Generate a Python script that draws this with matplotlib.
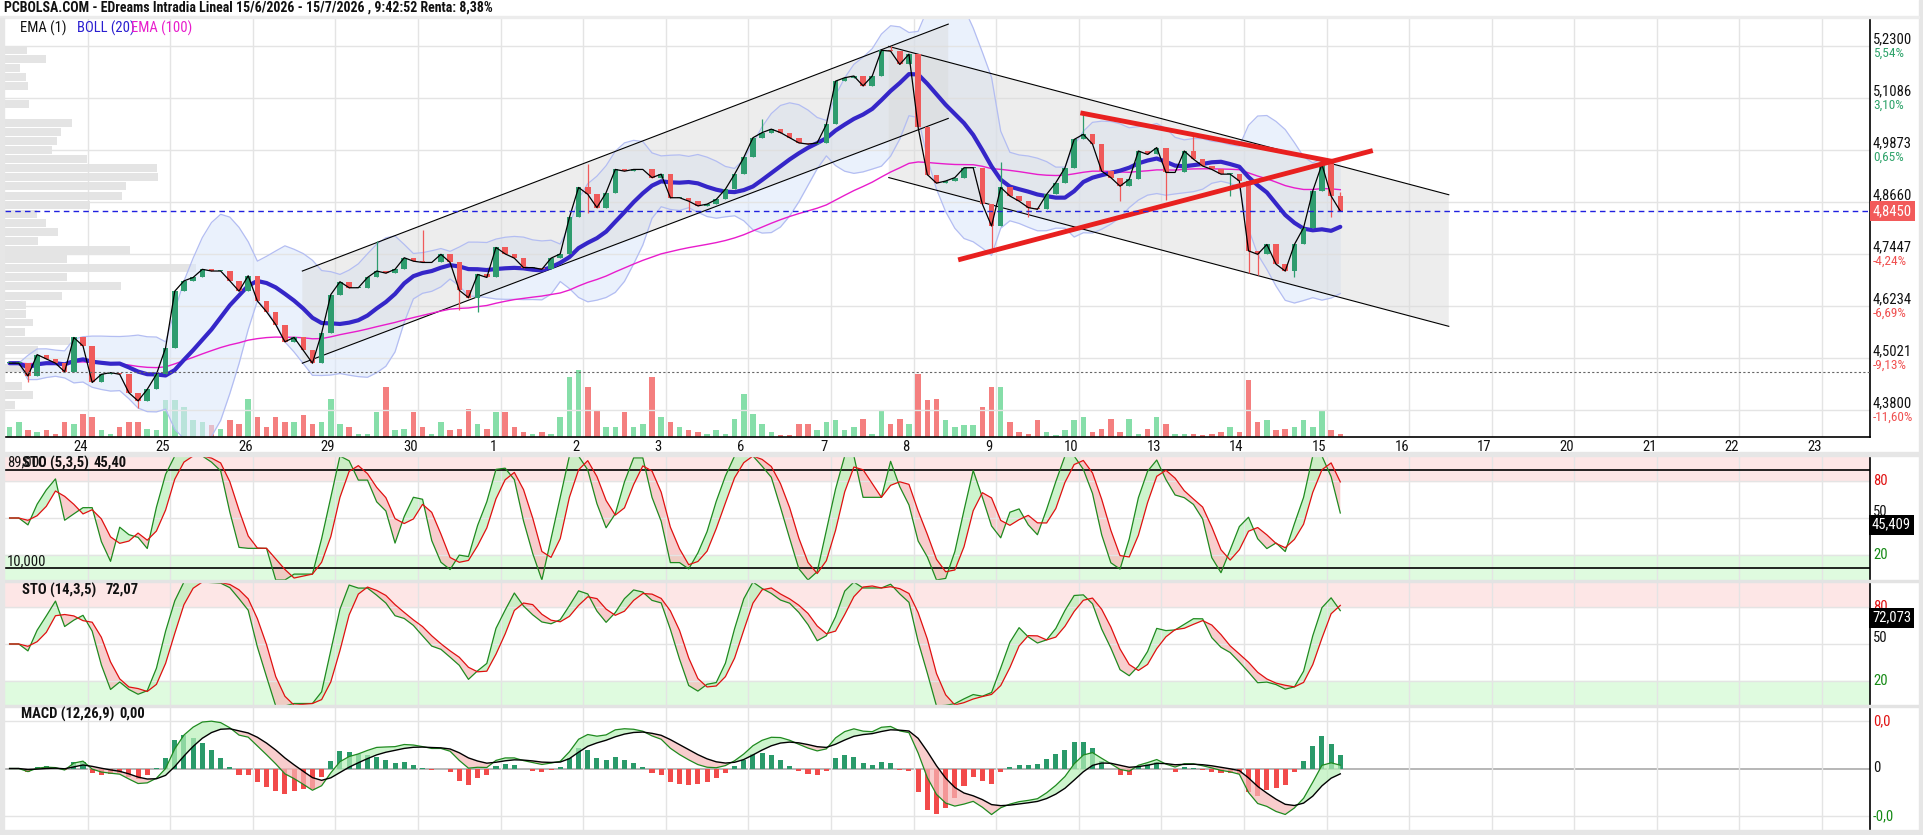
import numpy as np
import pandas as pd
import matplotlib
matplotlib.use('Agg')
import matplotlib.pyplot as plt
from matplotlib import font_manager

W, H = 1924, 835

# ---- data (x axis: one unit per trading day, day 23 starts at 0) ----
day_labels = ["24", "25", "26", "29", "30", "1", "2", "3", "6", "7", "8",
              "9", "10", "13", "14", "15", "16", "17", "20", "21", "22", "23"]

# hourly closes, one list per trading day (23/6 ... 15/7)
close_by_day = [
    [4.49, 4.49, 4.46, 4.51, 4.50, 4.49, 4.47, 4.55, 4.53],
    [4.445, 4.464, 4.468, 4.464, 4.421, 4.402, 4.429, 4.464, 4.526],
    [4.658, 4.682, 4.690, 4.709, 4.705, 4.705, 4.682, 4.658, 4.694],
    [4.635, 4.61, 4.58, 4.54, 4.55, 4.52, 4.49, 4.56, 4.65],
    [4.68, 4.666, 4.666, 4.69, 4.705, 4.70, 4.709, 4.736, 4.728],
    [4.725, 4.725, 4.744, 4.725, 4.66, 4.643, 4.697, 4.69, 4.76],
    [4.745, 4.735, 4.713, 4.713, 4.709, 4.735, 4.745, 4.83, 4.90],
    [4.884, 4.853, 4.888, 4.942, 4.938, 4.942, 4.942, 4.923, 4.931],
    [4.876, 4.876, 4.868, 4.857, 4.861, 4.872, 4.896, 4.931, 4.970],
    [5.016, 5.028, 5.036, 5.028, 5.016, 5.004, 5.001, 5.004, 5.047],
    [5.148, 5.156, 5.160, 5.137, 5.160, 5.220, 5.218, 5.187, 5.211],
    [5.04, 4.93, 4.91, 4.915, 4.923, 4.946, 4.946, 4.861, 4.810],
    [4.90, 4.88, 4.868, 4.853, 4.849, 4.884, 4.911, 4.946, 5.012],
    [5.024, 5.001, 4.938, 4.923, 4.903, 4.919, 4.985, 4.977, 4.993],
    [4.935, 4.935, 4.985, 4.966, 4.950, 4.942, 4.931, 4.931, 4.915],
    [4.752, 4.744, 4.767, 4.721, 4.705, 4.767, 4.806, 4.892, 4.954],
    [4.88, 4.845],
]

vol_by_day = [
    [30, 45, 20, 15, 20, 10, 45, 40, 70],
    [60, 20, 10, 30, 45, 45, 25, 20, 110],
    [110, 90, 50, 45, 35, 25, 50, 40, 115],
    [60, 30, 60, 45, 45, 65, 40, 45, 115],
    [40, 30, 10, 10, 75, 150, 20, 25, 75],
    [30, 10, 45, 20, 25, 85, 40, 25, 75],
    [75, 30, 15, 10, 15, 10, 60, 180, 200],
    [150, 80, 30, 30, 75, 30, 40, 180, 60],
    [45, 30, 20, 15, 10, 20, 10, 55, 130],
    [70, 40, 15, 5, 5, 40, 40, 20, 45],
    [50, 20, 30, 55, 10, 80, 40, 55, 40],
    [190, 110, 115, 50, 30, 35, 35, 90, 150],
    [150, 45, 15, 10, 50, 15, 5, 20, 50],
    [60, 15, 25, 55, 15, 55, 10, 25, 60],
    [40, 10, 10, 10, 5, 10, 15, 30, 15],
    [170, 45, 50, 20, 25, 30, 50, 30, 80],
    [20, 10],
]

# notable wicks: (day, bar) -> price
wick_hi = {(4, 4): 4.775, (5, 0): 4.80, (7, 0): 4.955, (9, 1): 5.06, (10, 6): 5.23,
           (12, 0): 4.96, (13, 0): 5.078, (14, 3): 5.02, (16, 1): 4.89}
wick_lo = {(0, 2): 4.445, (1, 5): 4.385, (5, 4): 4.615, (5, 6): 4.61, (7, 0): 4.84,
           (8, 2): 4.845, (11, 8): 4.75, (12, 3): 4.83, (13, 4): 4.868, (14, 0): 4.87,
           (14, 7): 4.88, (15, 0): 4.70, (15, 1): 4.695, (15, 5): 4.69, (16, 0): 4.83}

# volume profile on the left (price level, bar length in pixels)
vp_price = [5.221, 5.200, 5.179, 5.158, 5.137, 5.095, 5.051, 5.030, 5.008, 4.987, 4.966, 4.945,
            4.924, 4.903, 4.880, 4.858, 4.837, 4.816, 4.796, 4.775, 4.754, 4.733, 4.713, 4.690,
            4.669, 4.647, 4.626, 4.604, 4.585, 4.563, 4.542, 4.521, 4.478, 4.437, 4.415, 4.393]
vp_width = [22, 41, 15, 21, 23, 24, 67, 56, 52, 47, 82, 152, 153, 121, 117, 85, 32, 41, 53, 33,
            125, 62, 191, 62, 116, 57, 21, 21, 28, 20, 65, 33, 25, 17, 28, 10]

price_ticks = [5.2300, 5.1086, 4.9873, 4.8660, 4.7447, 4.6234, 4.5021, 4.3800]
price_tick_labels = ["5,2300", "5,1086", "4,9873", "4,8660", "4,7447", "4,6234", "4,5021", "4,3800"]
pct_labels = ["5,54%", "3,10%", "0,65%", "", "-4,24%", "-6,69%", "-9,13%", "-11,60%"]

last_price = 4.8450
ref_line = 4.469
sto1_last, sto2_last = 45.409, 72.073

# drawn objects: (x0, p0, x1, p1)
up_low = (3.60, 4.490, 11.42, 5.061)
up_high = (3.60, 4.705, 11.42, 5.281)
dn_high = (10.70, 5.229, 17.48, 4.883)
dn_low = (10.70, 4.923, 17.48, 4.576)
red_down = (13.02, 5.074, 16.09, 4.960)
red_up = (11.54, 4.731, 16.56, 4.986)

title = "PCBOLSA.COM - EDreams Intradia Lineal 15/6/2026 - 15/7/2026 , 9:42:52 Renta: 8,38%"

# ---- fonts ----
names = {f.name for f in font_manager.fontManager.ttflist}
font = next((n for n in ["Roboto Condensed", "Liberation Sans Narrow", "Roboto"] if n in names), "DejaVu Sans")
plt.rcParams['font.family'] = [font, 'DejaVu Sans']
FS = 10.5

# ---- series ----
closes = np.concatenate([np.array(d, float) for d in close_by_day])
vols = np.concatenate([np.array(v, float) for v in vol_by_day])
xs = np.concatenate([d + (np.arange(len(day)) + 0.5) / 9 for d, day in enumerate(close_by_day)])
opens = np.r_[closes[0], closes[:-1]]
highs = np.maximum(opens, closes)
lows = np.minimum(opens, closes)
pos = {}
i = 0
for d, day in enumerate(close_by_day):
    for k in range(len(day)):
        pos[(d, k)] = i
        i += 1
for key, v in wick_hi.items():
    highs[pos[key]] = max(highs[pos[key]], v)
for key, v in wick_lo.items():
    lows[pos[key]] = min(lows[pos[key]], v)

s = pd.Series(closes)
mid = s.rolling(10, min_periods=1).mean()
sd = s.rolling(10, min_periods=2).std(ddof=0).fillna(0)
bb_up, bb_lo = mid + 2 * sd, mid - 2 * sd
ema100 = s.ewm(span=50, adjust=False).mean()


def stoch(k, slow, d):
    hh = pd.Series(highs).rolling(k, min_periods=1).max()
    ll = pd.Series(lows).rolling(k, min_periods=1).min()
    raw = 100 * (s - ll) / (hh - ll).replace(0, np.nan)
    kk = raw.fillna(50).rolling(slow, min_periods=1).mean()
    return kk, kk.rolling(d, min_periods=1).mean()


# periods scaled to hourly bars (the source uses half-hour bars)
k1, d1 = stoch(3, 3, 3)
k2, d2 = stoch(8, 3, 3)
macd = s.ewm(span=6, adjust=False).mean() - s.ewm(span=13, adjust=False).mean()
signal = macd.ewm(span=5, adjust=False).mean()
hist = macd - signal

# ---- figure ----
fig = plt.figure(figsize=(W / 100, H / 100), dpi=100)
fig.patch.set_facecolor('white')


def px_axes(x0, y0, x1, y1):
    return fig.add_axes([x0 / W, 1 - y1 / H, (x1 - x0) / W, (y1 - y0) / H])


def strip(x0, y0, x1, y1, color):
    fig.patches.append(plt.Rectangle((x0 / W, 1 - y1 / H), (x1 - x0) / W, (y1 - y0) / H,
                                     transform=fig.transFigure, color=color, zorder=0))


strip(0, 452, W, 456, '#e6e6e6')
strip(0, 580, W, 582, '#e3e3e3')
strip(0, 705, W, 707, '#e3e3e3')
strip(0, 830, W, H, '#e6e6e6')
strip(1919, 0, W, H, '#e6e6e6')
strip(0, 16, 1919, 18, '#ececec')
strip(0, 18, 4, 830, '#e6e6e6')

XMAX = 22.58
grid_c = '#e4e4e4'

ax_v = px_axes(5, 18, 1870, 437)
ax = px_axes(5, 18, 1870, 437)
ax_s1 = px_axes(5, 456, 1870, 580)
ax_s2 = px_axes(5, 582, 1870, 706)
ax_m = px_axes(5, 707, 1870, 830)

for a in (ax_v, ax, ax_s1, ax_s2, ax_m):
    a.set_xlim(0, XMAX)
    a.set_xticks(np.arange(1, 23))
    a.tick_params(left=False, bottom=False, right=False, top=False,
                  labelleft=False, labelbottom=False)
    for sp in a.spines.values():
        sp.set_visible(False)
    a.spines['right'].set_visible(True)
    a.spines['right'].set_color('black')
    a.spines['right'].set_linewidth(1.2)
ax.patch.set_visible(False)
ax_v.spines['right'].set_visible(False)

# volume (behind price)
ax_v.set_ylim(0, 419 * 3)
ax_v.set_yticks([])
ax_v.grid(axis='x', color=grid_c, lw=1)
up = closes >= opens
ax_v.bar(xs, vols, width=0.6 / 9, color=np.where(up, '#86dea9', '#f47f7f'), zorder=2)

# main price panel
ax.set_ylim(4.3178, 5.2953)
ax.set_yticks(price_ticks)
ax.grid(axis='y', color=grid_c, lw=1)
ax.spines['bottom'].set_visible(True)
ax.spines['bottom'].set_color('black')
ax.spines['bottom'].set_linewidth(1.2)

px_per_day = XMAX / 1865
ax.barh(vp_price, np.array(vp_width) * px_per_day, height=0.0185, left=0,
        color='#e2e2e2', alpha=0.9, zorder=1)

ax.fill_between(xs, bb_lo, bb_up, color='#dce8fb', alpha=0.6, lw=0, zorder=1.5)
ax.plot(xs, bb_up, color='#b3bdf2', lw=0.9, zorder=2)
ax.plot(xs, bb_lo, color='#b3bdf2', lw=0.9, zorder=2)

for lo_l, hi_l in ((up_low, up_high), (dn_low, dn_high)):
    ax.fill([lo_l[0], lo_l[2], hi_l[2], hi_l[0]], [lo_l[1], lo_l[3], hi_l[3], hi_l[1]],
            color='#d9d9d9', alpha=0.45, lw=0, zorder=1.6)
    for ln in (lo_l, hi_l):
        ax.plot([ln[0], ln[2]], [ln[1], ln[3]], color='black', lw=0.8, zorder=3)

ax.plot(xs, ema100, color='#e81ccc', lw=1.0, zorder=3)
ax.plot(xs, mid, color='#3526c8', lw=3.0, zorder=3, solid_capstyle='round')

cw = 0.6 / 9
col = np.where(up, '#2e9c6e', '#f05a5a')
ax.vlines(xs, lows, highs, colors=col, lw=0.9, zorder=4)
ax.bar(xs, np.maximum(np.abs(closes - opens), 0.002), bottom=np.minimum(opens, closes),
       width=cw, color=col, zorder=4)
ax.plot(xs, closes, color='black', lw=0.9, zorder=5)

for ln in (red_down, red_up):
    ax.plot([ln[0], ln[2]], [ln[1], ln[3]], color='#e8201f', lw=3.5, zorder=6,
            solid_capstyle='butt')

ax.axhline(last_price, color='#2020e0', lw=1, ls=(0, (4, 3)), zorder=6)
ax.axhline(ref_line, color='#666666', lw=0.8, ls=(0, (2, 2)), zorder=6)

yax = ax.get_yaxis_transform()
for t, lbl, pct in zip(price_ticks, price_tick_labels, pct_labels):
    ax.annotate(lbl, xy=(1, t), xycoords=yax, xytext=(3, 7), textcoords='offset pixels',
                va='center', ha='left', fontsize=FS, color='#111111', annotation_clip=False)
    if pct:
        ax.annotate(pct, xy=(1, t), xycoords=yax, xytext=(3, -7), textcoords='offset pixels',
                    va='center', ha='left', fontsize=9.5,
                    color='#2ea36a' if not pct.startswith('-') else '#f05050',
                    annotation_clip=False)
ax.annotate("4,8450", xy=(1, last_price), xycoords=yax, xytext=(3, 0), textcoords='offset pixels',
            va='center', ha='left', fontsize=FS, color='white', annotation_clip=False,
            bbox=dict(boxstyle='square,pad=0.2', fc='#f25a5a', ec='none'))

xax = ax.get_xaxis_transform()
for xpos, lbl in zip(range(1, 23), day_labels):
    ax.text(xpos - 0.09, -0.025, lbl, transform=xax, ha='center', va='center',
            fontsize=FS, color='#111111')


# stochastic panels
def sto_panel(a, k, d, lines):
    a.set_ylim(0, 100)
    a.set_yticks([20, 50, 80])
    a.grid(color=grid_c, lw=1)
    a.axhspan(80, 100, color='#fde6e6', zorder=0)
    a.axhspan(0, 20, color='#dffbdf', zorder=0)
    for v in lines:
        a.axhline(v, color='black', lw=1.2, zorder=2)
    a.fill_between(xs, k, d, where=k >= d, interpolate=True, color='#b8f0b8', alpha=0.7, lw=0)
    a.fill_between(xs, k, d, where=k < d, interpolate=True, color='#f6b8b8', alpha=0.7, lw=0)
    a.plot(xs, k, color='#1f8a1f', lw=0.9, zorder=3)
    a.plot(xs, d, color='#e01010', lw=0.9, zorder=3)
    t = a.get_yaxis_transform()
    for v, c, dy in ((80, '#e01010', 0), (50, '#111111', 6), (20, '#158a15', 0)):
        a.annotate(str(v), xy=(1, v), xycoords=t, xytext=(3, dy), textcoords='offset pixels',
                   va='center', ha='left', fontsize=FS, color=c, annotation_clip=False)


sto_panel(ax_s1, k1, d1, [89, 10])
sto_panel(ax_s2, k2, d2, [])
for a, v, txt in ((ax_s1, sto1_last, "45,409"), (ax_s2, sto2_last, "72,073")):
    a.annotate(txt, xy=(1, v), xycoords=a.get_yaxis_transform(), xytext=(2, -1),
               textcoords='offset pixels', va='center', ha='left', fontsize=FS, color='white',
               annotation_clip=False, bbox=dict(boxstyle='square,pad=0.2', fc='black', ec='none'))

# macd panel
lim = float(np.nanmax(np.abs(macd))) * 1.3
g = lim * 0.77
ax_m.set_ylim(-lim, lim)
ax_m.set_yticks([-g, g])
ax_m.grid(color=grid_c, lw=1)
ax_m.axhline(0, color='#aaaaaa', lw=1.2, zorder=1)
ax_m.bar(xs, hist * 1.6, width=0.55 / 9, color=np.where(hist >= 0, '#2a9a6a', '#f24a4a'), zorder=2)
ax_m.fill_between(xs, macd, signal, where=macd >= signal, interpolate=True, color='#b8f0b8',
                  alpha=0.7, lw=0, zorder=2)
ax_m.fill_between(xs, macd, signal, where=macd < signal, interpolate=True, color='#f6b8b8',
                  alpha=0.7, lw=0, zorder=2)
ax_m.plot(xs, macd, color='#1f8a1f', lw=0.9, zorder=3)
ax_m.plot(xs, signal, color='black', lw=1.0, zorder=3)
tm = ax_m.get_yaxis_transform()
for v, lbl, c in ((g, "0,0", '#e01010'), (0, "0", '#111111'), (-g, "-0,0", '#158a15')):
    ax_m.annotate(lbl, xy=(1, v), xycoords=tm, xytext=(3, 0), textcoords='offset pixels',
                  va='center', ha='left', fontsize=FS, color=c, annotation_clip=False)


# texts
def ftext(x, y, txt, **kw):
    fig.text(x / W, 1 - y / H, txt, va='center', ha='left', **kw)


ftext(4, 8, title, fontsize=10, color='#111111', fontweight='bold')
ftext(20, 28, "EMA (1)", fontsize=FS, color='#111111')
ftext(77, 28, "BOLL (20)", fontsize=FS, color='#2a1fd0')
ftext(131, 28, "EMA (100)", fontsize=FS, color='#e81ccc')
ftext(7, 462, "89,000", fontsize=FS, color='#111111')
ftext(22, 463, "STO (5,3,5)", fontsize=FS, color='#111111', fontweight='bold')
ftext(94, 463, "45,40", fontsize=FS, color='#111111', fontweight='bold')
ftext(7, 561, "10,000", fontsize=FS, color='#111111')
ftext(22, 590, "STO (14,3,5)", fontsize=FS, color='#111111', fontweight='bold')
ftext(106, 590, "72,07", fontsize=FS, color='#111111', fontweight='bold')
ftext(21, 714, "MACD (12,26,9)", fontsize=FS, color='#111111', fontweight='bold')
ftext(119, 714, "0,00", fontsize=FS, color='#111111', fontweight='bold')

fig.savefig('out.png', dpi=100)
